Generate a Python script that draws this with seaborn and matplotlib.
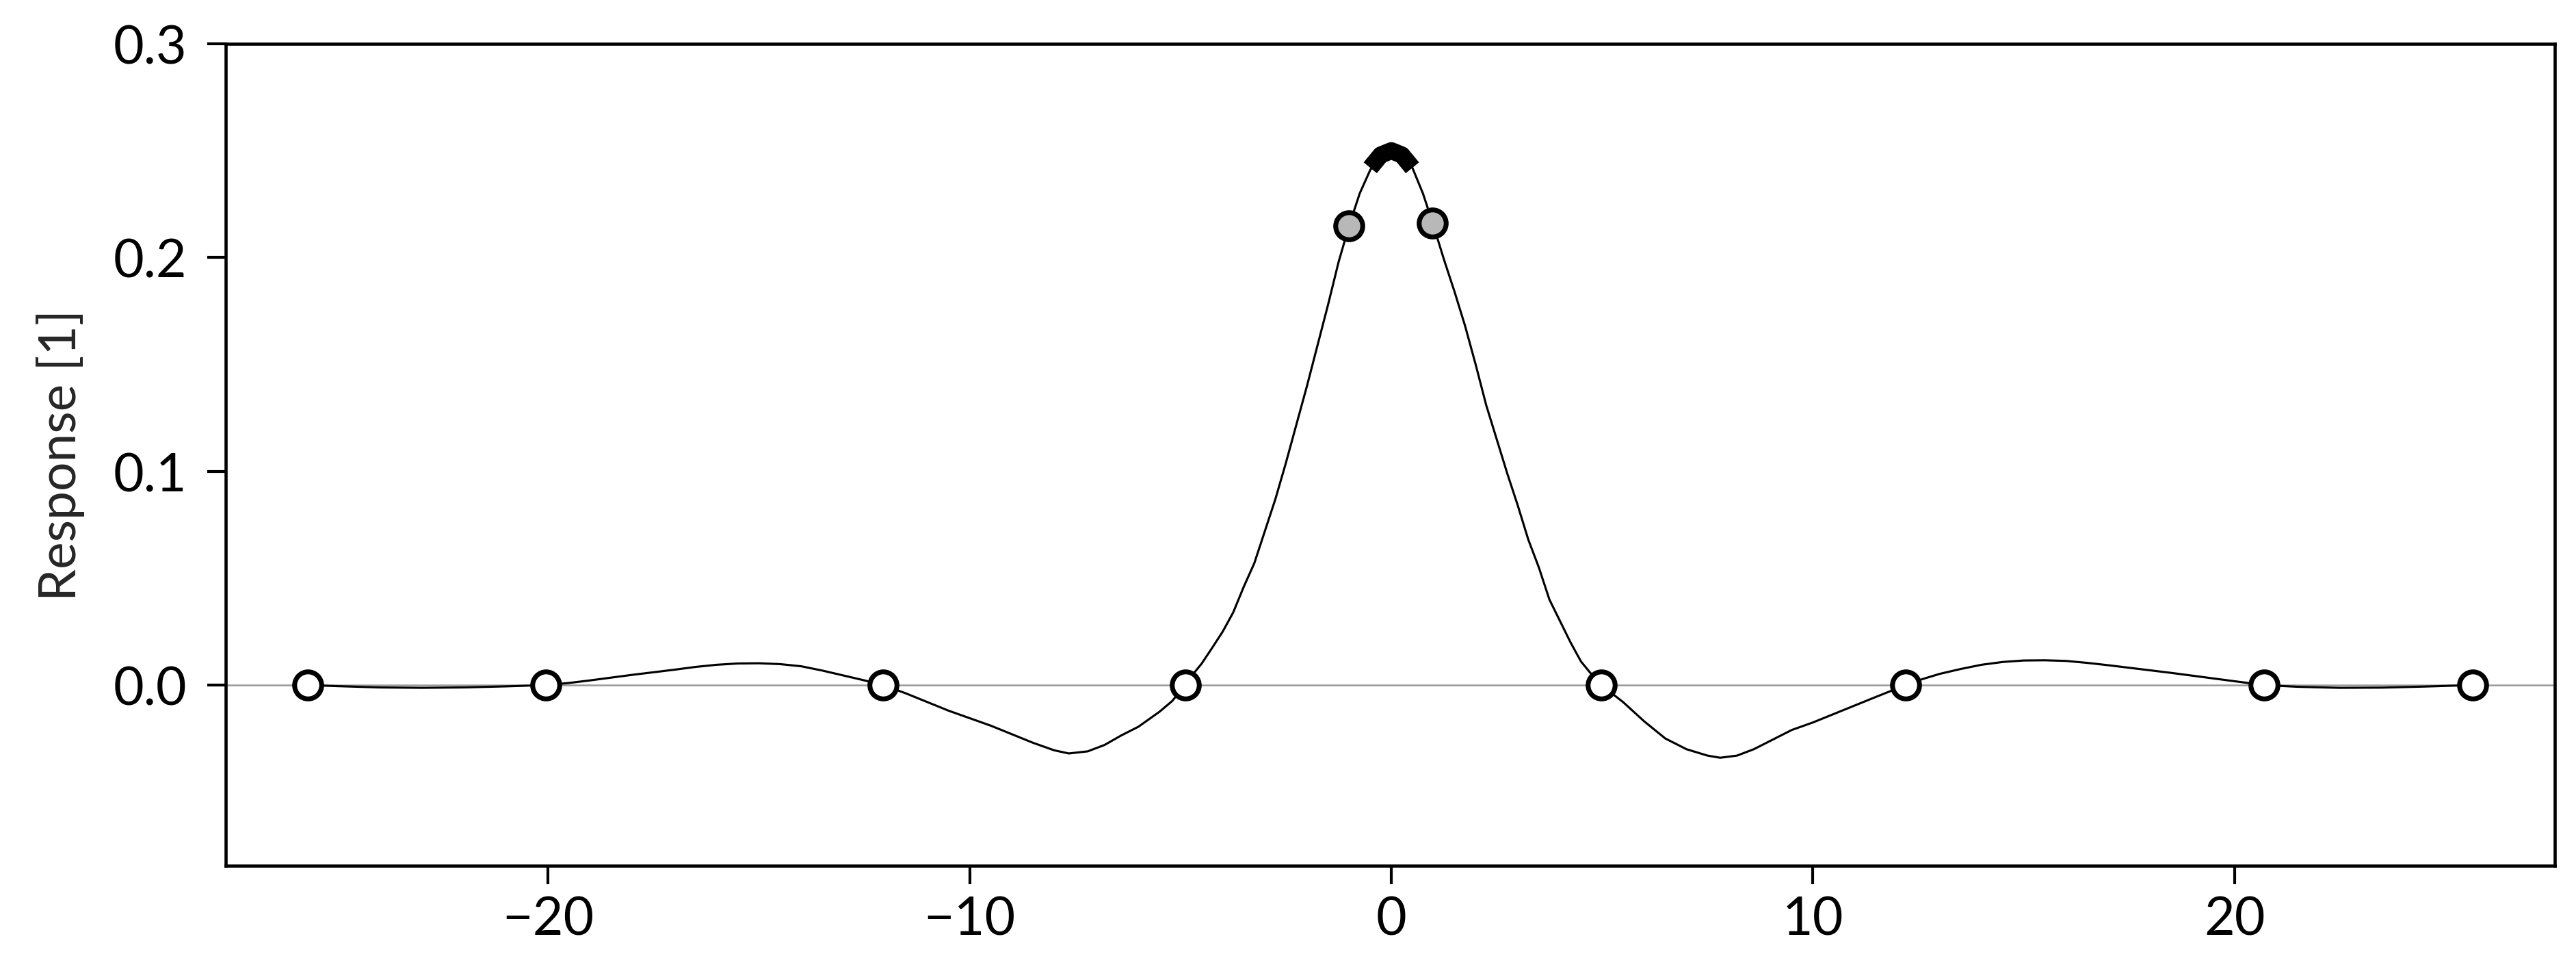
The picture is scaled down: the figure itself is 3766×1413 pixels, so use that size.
import numpy as np
import pandas as pd
import matplotlib
matplotlib.use("Agg")
import matplotlib.pyplot as plt
import seaborn as sns

# ---- data ----
curve_x = [-25.7, -25.0, -24.0, -23.0, -22.0, -21.0, -20.05,
           -19.5, -19.0, -18.5, -18.0, -17.5, -17.0, -16.5, -16.0, -15.5, -15.0,
           -14.5, -14.0, -13.5, -13.0, -12.5, -12.05,
           -11.5, -11.0, -10.5, -10.0, -9.5, -9.0, -8.5, -8.0, -7.65, -7.2, -6.8,
           -6.4, -6.0, -5.5, -5.2, -4.89,
           -4.75, -4.5, -4.25, -4.0, -3.75, -3.5, -3.25, -3.0, -2.75, -2.5, -2.25,
           -2.0, -1.75, -1.5, -1.25, -1.0, -0.75, -0.5, -0.25, 0.0,
           0.25, 0.5, 0.75, 1.0, 1.25, 1.5, 1.75, 2.0, 2.25, 2.5, 2.75, 3.0, 3.25,
           3.5, 3.75, 4.0, 4.25, 4.5, 4.75, 4.98,
           5.5, 6.0, 6.5, 7.0, 7.5, 7.8, 8.2, 8.6, 9.0, 9.5, 10.0, 10.5, 11.0, 11.5, 12.2,
           12.6, 13.0, 13.5, 14.0, 14.5, 15.0, 15.5, 16.0, 16.5, 17.0, 17.5, 18.0,
           18.5, 19.0, 19.5, 20.0, 20.7,
           21.5, 22.5, 23.5, 24.5, 25.65]
curve_y = [0.0, -0.0005, -0.0011, -0.0013, -0.0011, -0.0006, 0.0,
           0.001, 0.0022, 0.0035, 0.0048, 0.006, 0.0072, 0.0085, 0.0095, 0.0101, 0.0102,
           0.0098, 0.0088, 0.0068, 0.0045, 0.0022, 0.0,
           -0.004, -0.008, -0.012, -0.0155, -0.019, -0.023, -0.027, -0.0305, -0.032, -0.031, -0.028,
           -0.0235, -0.0195, -0.0125, -0.0075, 0.0,
           0.004, 0.010, 0.0174, 0.025, 0.034, 0.046, 0.057, 0.072, 0.087, 0.104, 0.122,
           0.140, 0.159, 0.178, 0.198, 0.215, 0.230, 0.241, 0.248, 0.250,
           0.248, 0.242, 0.230, 0.215, 0.199, 0.184, 0.168, 0.150, 0.131, 0.115, 0.099, 0.084, 0.068,
           0.055, 0.040, 0.030, 0.020, 0.011, 0.005, 0.0,
           -0.008, -0.017, -0.025, -0.030, -0.033, -0.034, -0.033, -0.030, -0.026, -0.021, -0.0175,
           -0.0135, -0.0095, -0.0055, 0.0,
           0.0028, 0.0052, 0.0075, 0.0095, 0.0108, 0.0115, 0.0116, 0.0113, 0.0104, 0.0093, 0.0081, 0.0069,
           0.0057, 0.0044, 0.0031, 0.0018, 0.0,
           -0.0008, -0.0013, -0.0012, -0.0007, 0.0]

white_x = [-25.7, -20.05, -12.05, -4.89, 4.98, 12.2, 20.7, 25.65]
white_y = [0.0, 0.0, 0.0, 0.0, 0.0, 0.0, 0.0, 0.0]
gray_x = [-1.0, 0.97]
gray_y = [0.215, 0.216]
peak_x = [-0.5, -0.25, 0.0, 0.25, 0.5]
peak_y = [0.242, 0.248, 0.250, 0.248, 0.242]

x_ticks = [-20, -10, 0, 10, 20]
y_ticks = [0.0, 0.1, 0.2, 0.3]
y_label = "Response [1]"

# ---- style ----
sns.set_theme(style="ticks")
plt.rcParams['font.family'] = ['Lato', 'DejaVu Sans']
plt.rcParams['axes.unicode_minus'] = True

DPI = 300
fig = plt.figure(figsize=(3766 / DPI, 1414 / DPI), dpi=DPI)
ax = fig.add_axes([0.0876, 0.1047, 0.9042, 0.8493])

ax.axhline(0, color="#999999", lw=0.6, zorder=1)

curve = pd.DataFrame({"x": curve_x, "y": curve_y})
sns.lineplot(data=curve, x="x", y="y", ax=ax, color="black", lw=0.75, sort=False,
             estimator=None, zorder=2)

peak = pd.DataFrame({"x": peak_x, "y": peak_y})
sns.lineplot(data=peak, x="x", y="y", ax=ax, color="black", lw=6, sort=False,
             estimator=None, zorder=3, solid_capstyle="butt")

wdf = pd.DataFrame({"x": white_x, "y": white_y})
sns.scatterplot(data=wdf, x="x", y="y", ax=ax, s=90, color="white",
                edgecolor="black", linewidth=1.7, zorder=4, clip_on=False)
gdf = pd.DataFrame({"x": gray_x, "y": gray_y})
sns.scatterplot(data=gdf, x="x", y="y", ax=ax, s=90, color="#b8b8b8",
                edgecolor="black", linewidth=1.7, zorder=4)

ax.set_xlim(-27.65, 27.6)
ax.set_ylim(-0.0845, 0.3)
ax.set_xticks(x_ticks)
ax.set_yticks(y_ticks)
ax.set_xticklabels([f"{t}".replace("-", "\u2212") for t in x_ticks])
ax.set_yticklabels([f"{t:.1f}" for t in y_ticks])
ax.set_xlabel("")
ax.set_ylabel(y_label, fontsize=18, labelpad=10)

ax.tick_params(axis="both", labelsize=18.5, length=6.5, width=1.0, color="black",
               labelcolor="black")
ax.tick_params(axis="y", pad=7)
ax.tick_params(axis="x", pad=4)
for sp in ax.spines.values():
    sp.set_visible(True)
    sp.set_color("black")
    sp.set_linewidth(1.1)

fig.savefig("out.png", dpi=DPI, facecolor="white")
